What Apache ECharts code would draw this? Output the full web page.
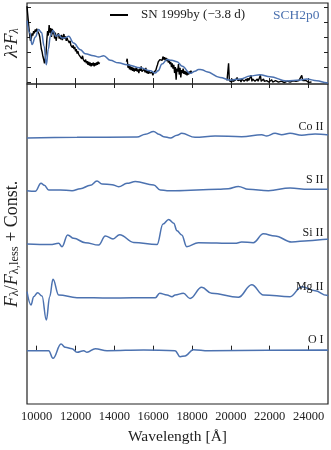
<!DOCTYPE html>
<html>
<head>
<meta charset="utf-8">
<script src="https://cdn.jsdelivr.net/npm/echarts@6/dist/echarts.min.js"></script>
<style>
  html, body { margin: 0; padding: 0; background: #fff; }
  #chart { width: 331px; height: 450px; }
</style>
</head>
<body>
<div id="chart"></div>
<script>
// wavelength ticks and top-panel ticks
const xTicks = [10000, 12000, 14000, 16000, 18000, 20000, 22000, 24000];
const topTicks = [0, 1, 2, 3, 4, 5];

// top panel: observed spectrum (three pieces) and model, [wavelength, lambda^2 F]
const obsSeg1 = [
  [9500, 5.05], [9530, 4.6], [9560, 4.2], [9600, 3.6], [9640, 3.1], [9680, 2.75], [9720, 2.9],
  [9760, 3.25], [9800, 3.1], [9840, 3.4], [9880, 3.25], [9920, 3.5], [9960, 3.35], [10000, 3.55],
  [10040, 3.4], [10080, 3.5], [10120, 3.2], [10160, 3.0], [10200, 2.6], [10240, 2.2], [10280, 2.0],
  [10320, 1.7], [10360, 1.5], [10400, 1.25], [10440, 1.35], [10480, 1.9], [10520, 2.8], [10560, 3.4],
  [10600, 3.1], [10640, 3.8], [10680, 3.3], [10720, 3.6], [10760, 3.0], [10800, 3.55], [10840, 3.2],
  [10880, 3.4], [10920, 2.9], [10960, 3.3], [11000, 2.75], [11040, 3.1], [11080, 3.0], [11120, 3.25],
  [11160, 2.9], [11200, 3.1], [11240, 2.85], [11280, 3.15], [11320, 2.8], [11360, 3.0], [11400, 3.2],
  [11440, 2.9], [11480, 3.05], [11520, 2.75], [11560, 2.95], [11600, 2.8], [11640, 2.85], [11680, 2.6],
  [11720, 2.75], [11760, 2.45], [11800, 2.55], [11840, 2.3], [11880, 2.45], [11920, 2.2], [11960, 2.35],
  [12000, 2.05], [12040, 2.2], [12080, 1.9], [12120, 2.05], [12160, 1.85], [12200, 1.95], [12240, 1.7],
  [12280, 1.8], [12320, 1.55], [12360, 1.75], [12400, 1.5], [12440, 1.6], [12480, 1.35], [12520, 1.5],
  [12560, 1.25], [12600, 1.4], [12640, 1.15], [12680, 1.35], [12720, 1.1], [12760, 1.3], [12800, 1.05],
  [12840, 1.25], [12880, 1.1], [12920, 1.3], [12960, 1.05], [13000, 1.25], [13040, 1.1], [13080, 1.3],
  [13120, 1.15], [13160, 1.35], [13200, 1.2], [13240, 1.3]
];
const obsSeg2 = [
  [14620, 1.35], [14660, 1.55], [14700, 0.95], [14740, 1.2], [14780, 0.85], [14820, 1.05], [14860, 0.8],
  [14900, 1.0], [14940, 0.75], [14980, 0.95], [15020, 0.7], [15060, 0.9], [15100, 0.75], [15140, 1.0],
  [15180, 0.7], [15220, 0.85], [15260, 0.6], [15300, 0.9], [15340, 0.75], [15380, 1.05], [15420, 0.7],
  [15460, 0.8], [15500, 0.6], [15540, 0.85], [15580, 0.65], [15620, 0.95], [15660, 0.6], [15700, 0.8],
  [15740, 0.55], [15780, 0.75], [15820, 0.6], [15860, 0.7], [15900, 0.5], [15940, 0.65], [15980, 0.45],
  [16020, 0.6], [16060, 0.55], [16100, 0.7], [16140, 0.8], [16180, 1.0], [16220, 1.15], [16260, 1.35],
  [16300, 1.25], [16340, 1.5], [16380, 1.4], [16420, 1.6], [16460, 1.45], [16500, 1.7], [16540, 1.5],
  [16580, 1.65], [16620, 1.45], [16660, 1.6], [16700, 1.4], [16740, 1.55], [16780, 1.3], [16820, 1.45],
  [16860, 1.2], [16900, 1.35], [16940, 1.0], [16980, 1.25], [17020, 0.9], [17060, 1.15], [17100, 0.6],
  [17140, 1.0], [17180, 0.15], [17220, 0.9], [17260, 0.7], [17300, 1.2], [17340, 0.5], [17380, 0.95],
  [17420, 0.3], [17460, 0.8], [17500, 0.6], [17540, 0.9], [17580, 0.55], [17620, 0.75], [17660, 0.5],
  [17700, 0.7], [17740, 0.45], [17780, 0.65], [17820, 0.5], [17860, 0.7], [17900, 0.55], [17940, 0.75],
  [17980, 0.6]
];
const obsSeg3 = [
  [19800, 0.1], [19840, 0.15], [19880, 1.25], [19920, 0.1], [19960, 0.05], [20000, 0.15], [20040, 0.0],
  [20080, 0.2], [20120, 0.05], [20160, 0.1], [20200, 0.0], [20240, 0.15], [20280, 0.05], [20320, 0.3],
  [20360, 0.1], [20400, 0.2], [20440, 0.05], [20480, 0.15], [20520, 0.0], [20560, 0.2], [20600, 0.1],
  [20640, 0.25], [20680, 0.05], [20720, 0.15], [20760, 0.1], [20800, 0.2], [20840, 0.05], [20880, 0.25],
  [20920, 0.1], [20960, 0.2], [21000, 0.1], [21040, 0.45], [21080, 0.05], [21120, 0.2], [21160, 0.1],
  [21200, 0.25], [21240, 0.05], [21280, 0.15], [21320, 0.1], [21360, 0.2], [21400, 0.05], [21440, 0.15],
  [21480, 0.1], [21520, 0.45], [21560, 0.05], [21600, 0.15], [21640, 0.1], [21680, 0.2], [21720, 0.05],
  [21760, 0.15], [21800, 0.0], [21840, 0.1], [21880, 0.05], [21920, 0.15], [21960, 0.0], [22000, 0.1],
  [22050, 0.05], [22100, 0.15], [22150, 0.0], [22200, 0.1], [22250, 0.05], [22300, 0.1], [22350, 0.0],
  [22400, 0.08], [22450, 0.0], [22500, 0.05], [22550, -0.02], [22600, 0.06], [22650, 0.0], [22700, 0.05],
  [22750, -0.03], [22800, 0.04], [22850, 0.0], [22900, 0.06], [22950, 0.02], [23000, 0.08], [23050, 0.0],
  [23100, 0.1], [23150, 0.03], [23200, 0.08], [23250, 0.0], [23300, 0.1], [23350, 0.05], [23400, 0.12],
  [23450, 0.04], [23500, 0.1], [23550, 0.2], [23600, 0.1], [23650, 0.45], [23700, 0.1], [23750, 0.2],
  [23800, 0.05], [23850, 0.12], [23900, 0.02], [23950, 0.08], [24000, -0.02], [24050, 0.05], [24100, -0.05],
  [24150, 0.0]
];
const modelTop = [
  [9500, 4.1], [9640, 3.3], [9760, 2.5], [9930, 3.0], [10100, 3.5], [10250, 3.3], [10380, 2.4],
  [10496, 1.15], [10600, 2.2], [10700, 3.05], [10840, 3.45], [10980, 3.05], [11130, 3.16], [11300, 2.93],
  [11450, 2.95], [11650, 3.05], [11900, 2.6], [12250, 2.15], [12500, 1.89], [12930, 1.75], [13190, 1.67],
  [13450, 1.75], [13790, 1.45], [14200, 1.28], [14650, 1.16], [15340, 0.95], [15850, 0.75], [16100, 0.6],
  [16250, 0.75], [16450, 1.2], [16710, 1.5], [16950, 1.45], [17225, 1.36], [17500, 1.05], [17900, 0.58],
  [18150, 0.72], [18330, 0.84], [18500, 0.82], [18760, 0.69], [19440, 0.31], [19955, 0.13], [20470, 0.2],
  [20985, 0.4], [21500, 0.49], [22015, 0.36], [22874, 0.07], [23560, 0.13], [23904, 0.2], [24420, 0.09],
  [24934, -0.04], [25000, -0.06]
];

// bottom panel: flux ratios F / F_less for each ion, [wavelength, ratio]
const coII = [
  [9500, 0.988], [12075, 1.0], [15165, 1.006], [15594, 1.06], [16023, 1.11], [16280, 1.06], [16538, 1.012],
  [16882, 0.988], [17225, 1.04], [17467, 1.075], [18152, 1.0], [19182, 1.025], [20555, 1.012], [21587, 1.05],
  [21845, 1.025], [22272, 1.075], [22616, 1.05], [23045, 1.075], [23646, 1.04], [24332, 1.062], [24934, 1.05],
  [25000, 1.05]
];
const sII = [
  [9500, 1.0], [9929, 0.99], [10221, 1.14], [10393, 1.1], [10616, 1.012], [11216, 1.012], [11818, 1.0],
  [12247, 1.037], [12762, 1.1], [13105, 1.18], [13363, 1.125], [13878, 1.112], [14221, 1.075], [14650, 1.137],
  [15079, 1.17], [16023, 1.106], [16367, 1.012], [16710, 1.0], [17125, 1.0], [19354, 1.025], [19870, 1.037],
  [20385, 1.08], [20900, 1.025], [21930, 1.0], [23045, 1.05], [23989, 1.025], [25000, 1.025]
];
const siII = [
  [9500, 1.0], [10702, 0.99], [11131, 1.012], [11303, 0.95], [11594, 1.17], [11903, 1.106], [12505, 1.025],
  [13190, 0.98], [13533, 1.15], [13929, 1.094], [14272, 1.175], [14994, 1.03], [16195, 0.99], [16504, 1.375],
  [16796, 1.46], [17053, 1.39], [17225, 1.25], [17467, 1.17], [17724, 0.95], [18325, 1.025], [20213, 1.012],
  [20555, 1.037], [21152, 1.025], [21673, 1.19], [22272, 1.15], [23131, 1.037], [23989, 1.062], [24934, 1.087],
  [25000, 1.09]
];
const mgII = [
  [9500, 1.106], [9706, 0.856], [9843, 1.012], [10049, 1.087], [10273, 1.025], [10496, 0.575], [10668, 1.012],
  [10839, 1.337], [11131, 1.044], [12075, 0.994], [13792, 0.987], [16109, 0.994], [16333, 1.075], [16710, 1.044],
  [16967, 1.012], [17125, 1.044], [17553, 1.075], [17896, 0.98], [18497, 1.187], [19012, 1.075], [20385, 1.0],
  [21072, 1.237], [21673, 1.044], [23045, 1.012], [23646, 1.2], [24332, 1.125], [24934, 1.037], [25000, 1.03]
];
const oI = [
  [9500, 1.0], [10616, 1.0], [10839, 0.856], [11251, 1.125], [11474, 1.062], [11818, 1.037], [12075, 0.969],
  [12420, 1.0], [12590, 0.97], [13017, 1.037], [13620, 1.0], [15510, 1.012], [17125, 1.0], [17380, 0.887],
  [17637, 0.9], [18066, 1.019], [18838, 1.0], [24934, 1.012], [25000, 1.0]
];
const ionNames = ['Co II', 'S II', 'Si II', 'Mg II', 'O I'];
const ionOffsets = [3, 2, 1, 0, -1];
const ionRatios = [coII, sII, siII, mgII, oI];

const blue = '#4c72b0';
const ink = '#222';
const serif = '"Liberation Serif", "DejaVu Serif", serif';

let chartDom = document.getElementById('chart');
let myChart = echarts.init(chartDom);
let option;

function xAxisFor(gridIndex, position, showLabel, tickLen) {
  return {
    type: 'value',
    gridIndex: gridIndex,
    position: position,
    min: 9500,
    max: 25000,
    axisLine: {show: false},
    splitLine: {show: false},
    axisTick: {show: true, inside: true, length: tickLen, customValues: xTicks, lineStyle: {color: ink, width: 1}},
    axisLabel: {
      show: showLabel,
      customValues: xTicks,
      formatter: (v) => String(v),
      fontFamily: serif,
      fontSize: 12.5,
      color: ink,
      margin: 6
    }
  };
}

let ionSeries = ionNames.map((name, i) => ({
  name: name,
  type: 'line',
  xAxisIndex: 2,
  yAxisIndex: 2,
  data: ionRatios[i].map(p => [p[0], p[1] + ionOffsets[i]]),
  symbol: 'none',
  smooth: 0.4,
  smoothMonotone: 'x',
  lineStyle: {color: blue, width: 1.5},
  markPoint: {
    symbol: 'circle',
    symbolSize: 1,
    silent: true,
    itemStyle: {color: 'transparent'},
    label: {show: true, position: 'left', distance: 1, formatter: name, fontFamily: serif, fontSize: 12, color: ink},
    data: [{coord: [24850, ionOffsets[i] + 1.2]}]
  }
}));

let obsSeries = [obsSeg1, obsSeg2, obsSeg3].map(seg => ({
  type: 'line',
  xAxisIndex: 0,
  yAxisIndex: 0,
  data: seg,
  symbol: 'none',
  lineStyle: {color: '#000', width: 1.4}
}));

option = {
  animation: false,
  grid: [
    {left: 27, top: 3, width: 301, height: 81, show: true, borderColor: ink, borderWidth: 1.2, backgroundColor: 'transparent'},
    {left: 27, top: 84, width: 301, height: 320, show: true, borderColor: ink, borderWidth: 1.2, backgroundColor: 'transparent'}
  ],
  xAxis: [
    xAxisFor(0, 'bottom', false, 4),
    xAxisFor(0, 'top', false, 4),
    Object.assign(xAxisFor(1, 'bottom', true, 5), {
      name: 'Wavelength [Å]',
      nameLocation: 'middle',
      nameGap: 25,
      nameTextStyle: {fontFamily: serif, fontSize: 15.5, color: ink}
    }),
    xAxisFor(1, 'top', false, 4)
  ],
  yAxis: [
    {
      type: 'value', gridIndex: 0, position: 'left', min: -0.13, max: 5.27,
      axisLine: {show: false}, splitLine: {show: false}, axisLabel: {show: false},
      axisTick: {show: true, inside: true, length: 4, customValues: topTicks, lineStyle: {color: ink}}
    },
    {
      type: 'value', gridIndex: 0, position: 'right', min: -0.13, max: 5.27,
      axisLine: {show: false}, splitLine: {show: false}, axisLabel: {show: false},
      axisTick: {show: true, inside: true, length: 4, customValues: topTicks, lineStyle: {color: ink}}
    },
    {
      type: 'value', gridIndex: 1, min: -1, max: 5,
      axisLine: {show: false}, splitLine: {show: false}, axisLabel: {show: false}, axisTick: {show: false}
    }
  ],
  graphic: [
    {type: 'line', shape: {x1: 110, y1: 15, x2: 128, y2: 15}, style: {stroke: '#000', lineWidth: 2}},
    {type: 'text', x: 141, y: 15, style: {text: 'SN 1999by (−3.8 d)', font: '13px ' + serif, fill: ink, verticalAlign: 'middle'}},
    {type: 'text', x: 273, y: 15, style: {text: 'SCH2p0', font: '13.5px ' + serif, fill: blue, verticalAlign: 'middle'}},
    {
      type: 'text', x: 12, y: 43, rotation: Math.PI / 2,
      style: {
        text: '{i|λ}{n|²}{i|F}{s|λ}',
        align: 'center', verticalAlign: 'middle',
        rich: {
          i: {fontFamily: serif, fontStyle: 'italic', fontSize: 18, fill: ink},
          n: {fontFamily: serif, fontSize: 18, fill: ink},
          s: {fontFamily: serif, fontStyle: 'italic', fontSize: 12, fill: ink, verticalAlign: 'bottom'}
        }
      }
    },
    {
      type: 'text', x: 12, y: 244, rotation: Math.PI / 2,
      style: {
        text: '{i|F}{s|λ}{n|/}{i|F}{s|λ,less}{n| + Const.}',
        align: 'center', verticalAlign: 'middle',
        rich: {
          i: {fontFamily: serif, fontStyle: 'italic', fontSize: 18, fill: ink},
          n: {fontFamily: serif, fontSize: 18, fill: ink},
          s: {fontFamily: serif, fontSize: 12.5, fill: ink, verticalAlign: 'bottom'}
        }
      }
    }
  ],
  series: obsSeries.concat([
    {
      name: 'SCH2p0',
      type: 'line',
      xAxisIndex: 0,
      yAxisIndex: 0,
      data: modelTop,
      symbol: 'none',
      smooth: 0.4,
      smoothMonotone: 'x',
      lineStyle: {color: blue, width: 1.5}
    }
  ], ionSeries)
};

option && myChart.setOption(option);
</script>
</body>
</html>
